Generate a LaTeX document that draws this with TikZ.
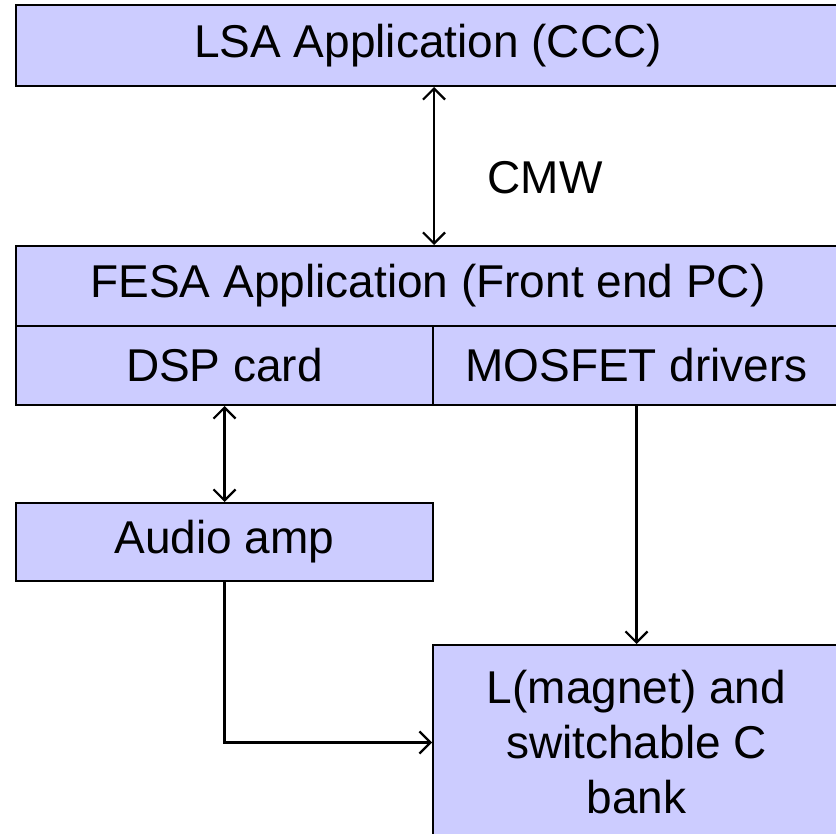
\documentclass[tikz,border=0pt]{standalone}
\usepackage{fontspec}
\setmainfont{Liberation Sans}
\usetikzlibrary{arrows.meta}
\definecolor{boxfill}{HTML}{CCCCFF}
\tikzset{
  box/.style={draw=black, fill=boxfill, line width=2pt, rectangle, inner sep=0pt,
    font=\fontsize{46}{55}\selectfont, align=center},
  conn/.style={line width=2.2pt, -{Straight Barb[length=11pt,width=22pt,line width=2.2pt]}},
  dconn/.style={line width=2.2pt, {Straight Barb[length=11pt,width=22pt,line width=2.2pt]}-{Straight Barb[length=11pt,width=22pt,line width=2.2pt]}},
  lbl/.style={font=\fontsize{46}{55}\selectfont}
}
\begin{document}
\begin{tikzpicture}[x=1pt,y=-1pt]
\useasboundingbox (0,0) rectangle (836,834);
\clip (0,0) rectangle (836,834);
\node[box, minimum width=824pt, minimum height=81pt] (lsa) at (428,45.5) {LSA Application (CCC)};
\node[box, minimum width=824pt, minimum height=80pt] (fesa) at (428,286) {FESA Application (Front end PC)};
\node[box, minimum width=417pt, minimum height=79pt] (dsp) at (224.5,365.5) {DSP card};
\node[box, minimum width=407pt, minimum height=79pt] (mos) at (636.5,365.5) {MOSFET drivers};
\node[box, minimum width=417pt, minimum height=78pt] (audio) at (224.5,542) {Audio amp};
\node[box, minimum width=407pt, minimum height=195pt] (lbank) at (636.5,742.5) {L(magnet) and\\switchable C\\bank};
\draw[dconn] (lsa.south -| dsp.east) -- (fesa.north -| dsp.east);
\node[lbl] (cmw) at (545,178) {CMW};
\draw[dconn] (dsp.south) -- (audio.north);
\draw[conn] (mos.south) -- (lbank.north);
\draw[conn] (audio.south) |- (lbank.west);
\end{tikzpicture}
\end{document}
